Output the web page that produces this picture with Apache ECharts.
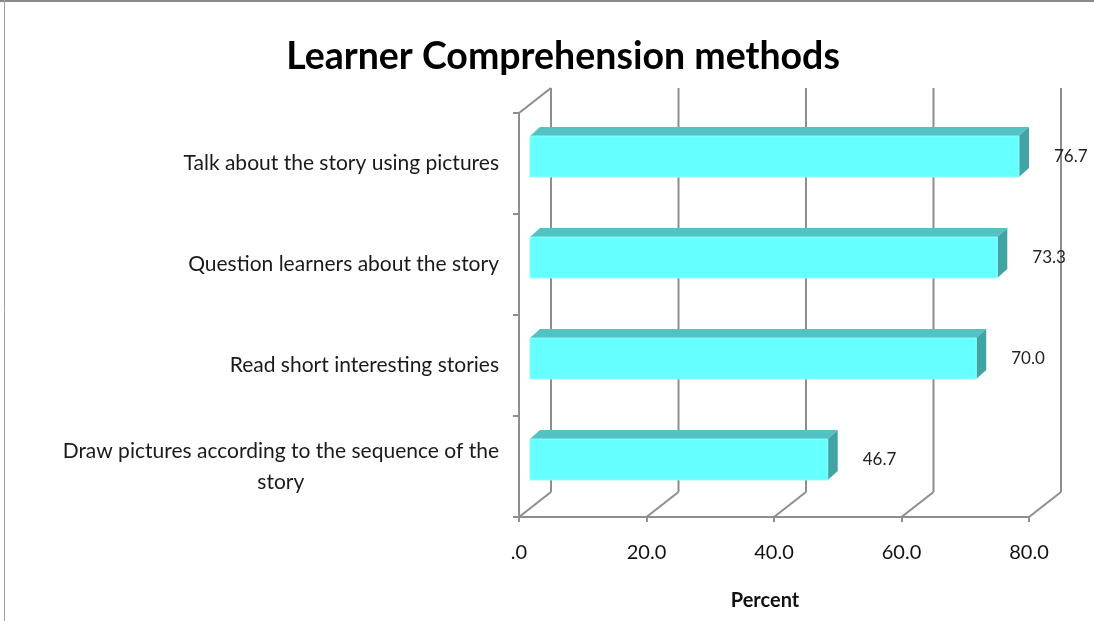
<!DOCTYPE html>
<html>
<head>
<meta charset="utf-8">
<script src="https://cdn.jsdelivr.net/npm/echarts@6/dist/echarts.min.js"></script>
<style>
  html, body { margin: 0; padding: 0; background: #fff; }
  #chart { width: 1094px; height: 621px; }
</style>
</head>
<body>
<div id="chart"></div>
<script>
// data
var categories = [
  'Talk about the story using pictures',
  'Question learners about the story',
  'Read short interesting stories',
  'Draw pictures according to the sequence of the\nstory'
]
var percents = [76.7, 73.3, 70.0, 46.7]
var xTicks = [0, 20, 40, 60, 80]
var xTickLabels = ['.0', '20.0', '40.0', '60.0', '80.0']

var FONT = 'Lato, "DejaVu Sans Condensed", sans-serif'
var LINE = '#8e8e8e'
// depth of the back wall, and of the bars
var DX = 32, DY = -25
var BX = 10, BY = -9

var chart = echarts.init(document.getElementById('chart'))

var option = {
  backgroundColor: '#fff',
  animation: false,
  title: {
    text: 'Learner Comprehension methods',
    left: 558,
    textAlign: 'center',
    top: 33,
    textStyle: { fontFamily: FONT, fontSize: 37.5, fontWeight: 'bold', color: '#000' }
  },
  graphic: [
    { type: 'line', shape: { x1: 0, y1: 1, x2: 1094, y2: 1 }, style: { stroke: '#8a8a8a', lineWidth: 2 } },
    { type: 'line', shape: { x1: 4.5, y1: 0, x2: 4.5, y2: 621 }, style: { stroke: '#a0a0a0', lineWidth: 1 } }
  ],
  grid: { left: 519, top: 113, width: 510, height: 404, outerBoundsMode: 'none', containLabel: false },
  xAxis: {
    type: 'value',
    min: 0,
    max: 80,
    interval: 20,
    splitLine: { show: false },
    axisLine: { show: true, lineStyle: { color: LINE, width: 2 } },
    axisTick: { show: true, length: 5, lineStyle: { color: LINE, width: 2 } },
    axisLabel: {
      margin: 26,
      fontFamily: FONT,
      fontSize: 20,
      color: '#111',
      formatter: function (v) {
        var i = xTicks.indexOf(v)
        return i >= 0 ? xTickLabels[i] : ''
      }
    },
    name: 'Percent',
    nameLocation: 'middle',
    nameGap: 74,
    nameTextStyle: { fontFamily: FONT, fontSize: 20, fontWeight: 'bold', color: '#111', padding: [0, 18, 0, 0] }
  },
  yAxis: {
    type: 'category',
    inverse: true,
    data: categories,
    axisLine: { show: true, lineStyle: { color: LINE, width: 2 } },
    axisTick: { show: true, length: 6, lineStyle: { color: LINE, width: 2 } },
    splitLine: { show: false },
    axisLabel: {
      margin: 20,
      color: '#1a1a1a',
      formatter: function (val) {
        return val.split('\n').map(function (l) { return '{c|' + l + '}' }).join('\n')
      },
      rich: {
        c: { align: 'center', fontFamily: FONT, fontSize: 21, lineHeight: 31, color: '#1a1a1a' }
      }
    }
  },
  series: [
    {
      // back wall gridlines and floor diagonals
      type: 'custom',
      z: 1,
      silent: true,
      data: xTicks.map(function (v) { return [v, 0] }),
      encode: { x: 0, y: 1 },
      renderItem: function (params, api) {
        var v = api.value(0)
        var cs = params.coordSys
        var fx = api.coord([v, 0])[0]
        var top = cs.y, bottom = cs.y + cs.height
        var st = { stroke: LINE, lineWidth: 2 }
        var kids = [
          { type: 'line', shape: { x1: fx + DX, y1: top + DY, x2: fx + DX, y2: bottom + DY }, style: st },
          { type: 'line', shape: { x1: fx, y1: bottom, x2: fx + DX, y2: bottom + DY }, style: st }
        ]
        if (v === 0) {
          kids.push({ type: 'line', shape: { x1: fx, y1: top, x2: fx + DX, y2: top + DY }, style: st })
        }
        return { type: 'group', children: kids }
      }
    },
    {
      // 3d bars
      type: 'custom',
      z: 3,
      data: percents.map(function (v, i) { return [v, i] }),
      encode: { x: 0, y: 1 },
      renderItem: function (params, api) {
        var v = api.value(0), i = api.value(1)
        var p0 = api.coord([0, i])
        var p1 = api.coord([v, i])
        var band = api.size([0, 1])[1]
        var h = band * 0.405
        var yc = p1[1] - 7
        var yt = yc - h / 2, yb = yc + h / 2
        var x0 = p0[0] + 11, x1 = p1[0] + 11
        return {
          type: 'group',
          children: [
            { type: 'polygon', shape: { points: [[x0, yt], [x1, yt], [x1 + BX, yt + BY], [x0 + BX, yt + BY]] },
              style: { fill: '#52c2c2' } },
            { type: 'polygon', shape: { points: [[x1, yt], [x1 + BX, yt + BY], [x1 + BX, yb + BY], [x1, yb]] },
              style: { fill: '#41a3a3' } },
            { type: 'rect', shape: { x: x0, y: yt, width: x1 - x0, height: h },
              style: { fill: '#66ffff', stroke: '#8ffcff', lineWidth: 1 } },
            { type: 'text', style: { text: v.toFixed(1), x: x1 + BX + 25, y: yc, align: 'left', verticalAlign: 'middle',
              fill: '#222', font: '17px ' + FONT } }
          ]
        }
      }
    }
  ]
}

chart.setOption(option)
</script>
</body>
</html>
